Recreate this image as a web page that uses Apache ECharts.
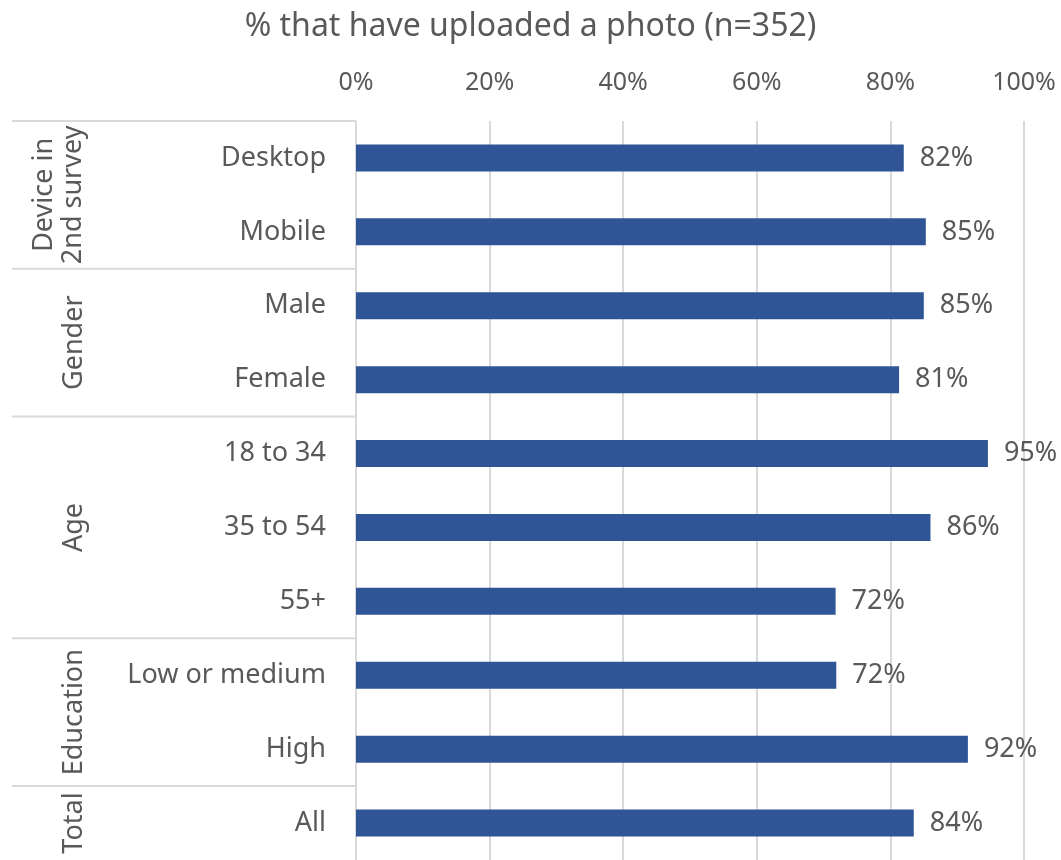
<!DOCTYPE html>
<html lang="en">
	<head>
		<meta charset="utf-8">
		<title>Uploaded a photo</title>
		<style>
			html, body { margin: 0; padding: 0; background: #fff; }
			#chart { width: 1061px; height: 860px; }
		</style>
	</head>
	<body>
		<div id="chart"></div>
		<script src="https://cdn.jsdelivr.net/npm/echarts@6/dist/echarts.min.js"></script>
		<script>
			// data
			var categories = ['Desktop', 'Mobile', 'Male', 'Female', '18 to 34', '35 to 54', '55+', 'Low or medium', 'High', 'All'];
			var values = [82.0, 85.3, 85.0, 81.3, 94.6, 86.0, 71.8, 71.9, 91.6, 83.5];
			var groupNames = ['Device in\n2nd survey', 'Gender', 'Age', 'Education', 'Total'];
			var groupSizes = [2, 2, 3, 2, 1];
			var xTicks = [0, 20, 40, 60, 80, 100];

			var textColor = '#595959';
			var lineColor = '#d9d9d9';
			var font = 'Noto Sans';

			var myChart = echarts.init(document.getElementById('chart'));

			var option = {
				backgroundColor: '#fff',
				animation: false,
				title: {
					text: '% that have uploaded a photo (n=352)',
					left: 'center',
					top: 6,
					textStyle: {
						color: textColor,
						fontFamily: font,
						fontWeight: 'normal',
						fontSize: 32
					}
				},
				grid: {
					left: 356,
					right: 37,
					top: 121,
					height: 742
				},
				xAxis: {
					type: 'value',
					position: 'top',
					min: xTicks[0],
					max: xTicks[xTicks.length - 1],
					interval: 20,
					axisLine: { show: false },
					axisTick: { show: false },
					axisLabel: {
						margin: 26,
						color: textColor,
						fontFamily: font,
						fontSize: 25,
						formatter: '{value}%'
					},
					splitLine: {
						show: true,
						lineStyle: { color: lineColor, width: 2 }
					}
				},
				yAxis: {
					type: 'category',
					inverse: true,
					data: categories,
					axisLine: { show: false },
					axisTick: { show: false },
					axisLabel: {
						margin: 30,
						padding: [4, 0, 0, 0],
						color: textColor,
						fontFamily: font,
						fontSize: 27
					}
				},
				series: [{
					type: 'bar',
					data: values,
					barWidth: 27,
					itemStyle: { color: '#2f5597' },
					label: {
						show: true,
						position: 'right',
						distance: 16,
						padding: [4, 0, 0, 0],
						color: textColor,
						fontFamily: font,
						fontSize: 27,
						formatter: function (p) { return Math.round(p.value) + '%'; }
					}
				}]
			};
			myChart.setOption(option);

			// group separators and rotated group names on the left
			function yAt(i) {
				return myChart.convertToPixel({ yAxisIndex: 0 }, i);
			}
			var band = yAt(1) - yAt(0);
			var axisX = myChart.convertToPixel({ xAxisIndex: 0 }, 0);
			var graphics = [];
			var start = 0;
			for (var g = 0; g < groupNames.length; g++) {
				var end = start + groupSizes[g] - 1;
				var topY = yAt(start) - band / 2;
				graphics.push({
					type: 'line',
					shape: { x1: 12, y1: topY, x2: axisX, y2: topY },
					style: { stroke: lineColor, lineWidth: 2 }
				});
				var midY = (yAt(start) + yAt(end)) / 2;
				var twoLines = groupNames[g].indexOf('\n') >= 0;
				graphics.push({
					type: 'text',
					x: twoLines ? 59 : 74,
					y: midY,
					rotation: Math.PI / 2,
					style: {
						text: groupNames[g],
						fill: textColor,
						font: '27px "' + font + '"',
						align: 'center',
						verticalAlign: 'middle',
						lineHeight: 29
					}
				});
				start = end + 1;
			}
			myChart.setOption({ graphic: graphics });
		</script>
	</body>
</html>
